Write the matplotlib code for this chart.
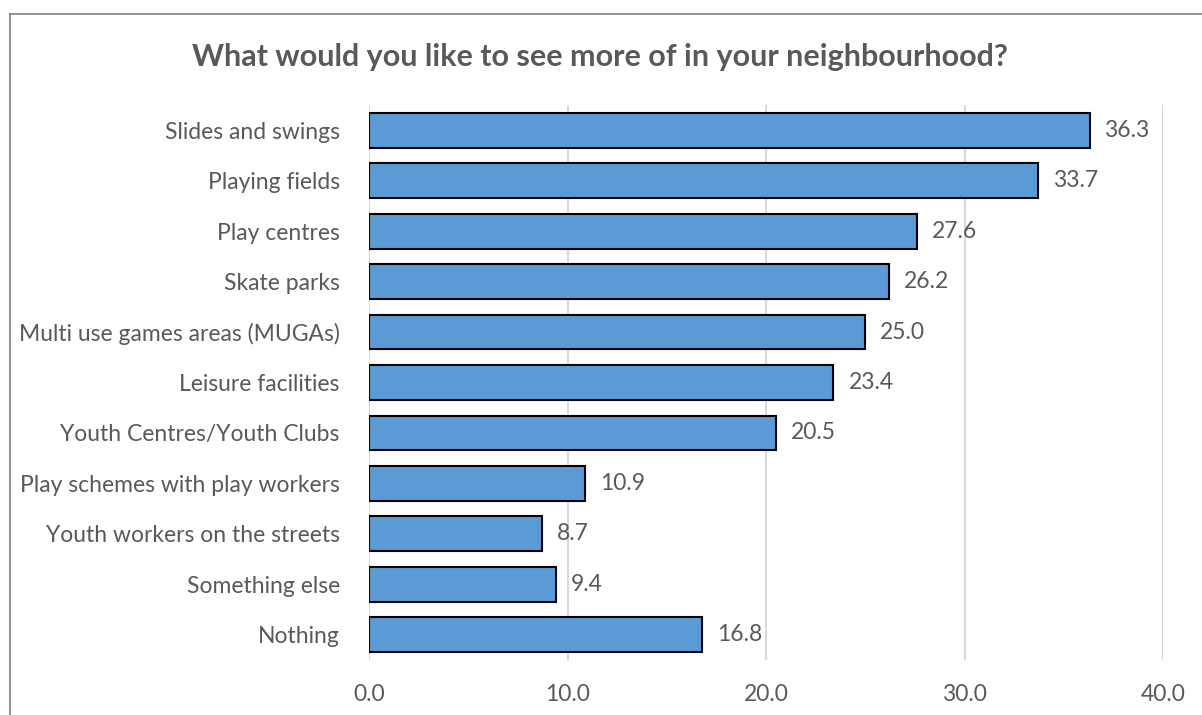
import matplotlib
matplotlib.use("Agg")
import matplotlib.pyplot as plt
from matplotlib.lines import Line2D

plt.rcParams['font.family'] = ['Lato', 'DejaVu Sans']

categories = ["Slides and swings", "Playing fields", "Play centres", "Skate parks",
              "Multi use games areas (MUGAs)", "Leisure facilities",
              "Youth Centres/Youth Clubs", "Play schemes with play workers",
              "Youth workers on the streets", "Something else", "Nothing"]
values = [36.3, 33.7, 27.6, 26.2, 25.0, 23.4, 20.5, 10.9, 8.7, 9.4, 16.8]
xticks = [0, 10, 20, 30, 40]

text_col = "#595959"

fig = plt.figure(figsize=(12.02, 7.15), dpi=100)
ax = fig.add_axes([369 / 1202, 1 - 660 / 715, (1163 - 369) / 1202, 555 / 715])

pos = list(range(len(categories)))
ax.barh(pos, values, height=0.69, color="#5B9BD5", edgecolor="black", linewidth=1.5, zorder=3)
for p, v in zip(pos, values):
    ax.text(v + 0.75, p, f"{v:.1f}", va="center", ha="left", fontsize=16.5, color=text_col)

ax.set_ylim(len(categories) - 0.5, -0.5)
ax.set_xlim(0, 40)
ax.set_yticks(pos)
ax.set_yticklabels(categories, fontsize=16.5, color=text_col)
ax.set_xticks(xticks)
ax.set_xticklabels([f"{t:.1f}" for t in xticks], fontsize=16.5, color=text_col)
ax.tick_params(length=0, axis="y", pad=21)
ax.tick_params(length=0, axis="x", pad=17)
ax.grid(axis="x", color="#D9D9D9", linewidth=1.5, zorder=0)
for s in ax.spines.values():
    s.set_visible(False)

fig.text((185 + 1015) / 2 / 1202, 1 - 57 / 715, "What would you like to see more of in your neighbourhood?",
         ha="center", va="center", fontsize=22, fontweight="bold", color=text_col)

# chart border (top and left visible)
fig.add_artist(Line2D([9.5 / 1202, 1], [1 - 13.5 / 715] * 2, color="#808080", linewidth=1.2))
fig.add_artist(Line2D([9.5 / 1202] * 2, [0, 1 - 13.5 / 715], color="#808080", linewidth=1.2))

fig.savefig("out.png", dpi=100)
